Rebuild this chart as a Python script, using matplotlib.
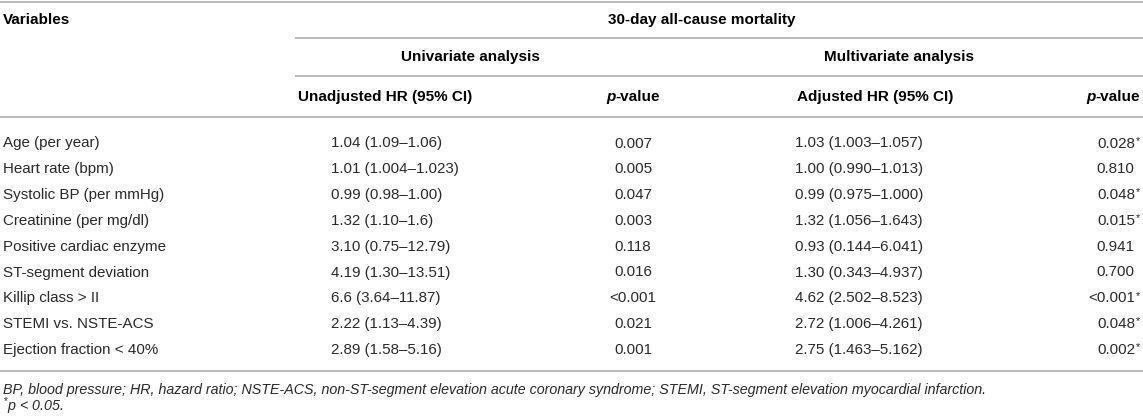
import matplotlib
matplotlib.use("Agg")
import matplotlib.pyplot as plt

# dados da tabela
variaveis = ["Age (per year)", "Heart rate (bpm)", "Systolic BP (per mmHg)",
             "Creatinine (per mg/dl)", "Positive cardiac enzyme", "ST-segment deviation",
             "Killip class > II", "STEMI vs. NSTE-ACS", "Ejection fraction < 40%"]
hr_bruto = ["1.04 (1.09–1.06)", "1.01 (1.004–1.023)", "0.99 (0.98–1.00)",
            "1.32 (1.10–1.6)", "3.10 (0.75–12.79)", "4.19 (1.30–13.51)",
            "6.6 (3.64–11.87)", "2.22 (1.13–4.39)", "2.89 (1.58–5.16)"]
p_bruto = ["0.007", "0.005", "0.047", "0.003", "0.118", "0.016", "<0.001", "0.021", "0.001"]
hr_ajust = ["1.03 (1.003–1.057)", "1.00 (0.990–1.013)", "0.99 (0.975–1.000)",
            "1.32 (1.056–1.643)", "0.93 (0.144–6.041)", "1.30 (0.343–4.937)",
            "4.62 (2.502–8.523)", "2.72 (1.006–4.261)", "2.75 (1.463–5.162)"]
p_ajust = ["0.028", "0.810", "0.048", "0.015", "0.941", "0.700", "<0.001", "0.048", "0.002"]
signif = [True, False, True, True, False, False, True, True, True]

titulo = "30-day all-cause mortality"
grupos = ["Univariate analysis", "Multivariate analysis"]
nota1 = ("BP, blood pressure; HR, hazard ratio; NSTE-ACS, non-ST-segment elevation "
         "acute coronary syndrome; STEMI, ST-segment elevation myocardial infarction.")

plt.rcParams["font.family"] = "Liberation Sans"
plt.rcParams["mathtext.fontset"] = "custom"
plt.rcParams["mathtext.rm"] = "Liberation Sans"
plt.rcParams["mathtext.it"] = "Liberation Sans:italic"

W, H = 1143, 420
fig = plt.figure(figsize=(W / 100, H / 100), dpi=100)
ax = fig.add_axes([0, 0, 1, 1])
ax.set_xlim(0, W)
ax.set_ylim(H, 0)
ax.axis("off")

fs = 10.9      # corpo
fs_b = 11.0    # cabecalhos
fs_n = 10.3    # rodape
cor_linha = "#b4b4b4"
cor_txt = "#2a2a2a"
renderer = fig.canvas.get_renderer()


def linha(y, x0=0, x1=W):
    ax.plot([x0, x1], [y, y], color=cor_linha, lw=1.3, solid_capstyle="butt")


def texto_partes(x, y, partes, ha="left", tam=fs):
    # desenha pedacos com estilos diferentes lado a lado
    objs = []
    larg = []
    for s, kw in partes:
        t = ax.text(0, y, s, fontsize=tam, va="center", **kw)
        bb = t.get_window_extent(renderer=renderer)
        objs.append(t)
        larg.append(bb.width)
    total = sum(larg)
    if ha == "center":
        x = x - total / 2
    elif ha == "right":
        x = x - total
    for t, w in zip(objs, larg):
        t.set_x(x)
        x += w


# linhas horizontais
linha(2)
linha(38, 295)
linha(76, 295)
linha(117)
linha(371)

# cabecalhos
bold = dict(fontweight="bold", color="black", fontsize=fs_b, va="center")
ax.text(3, 20, "Variables", **bold)
ax.text(702, 20, titulo, ha="center", **bold)
ax.text(470, 57, grupos[0], ha="center", **bold)
ax.text(899, 57, grupos[1], ha="center", **bold)
ax.text(385, 97, "Unadjusted HR (95% CI)", ha="center", **bold)
ax.text(875, 97, "Adjusted HR (95% CI)", ha="center", **bold)
pv = [("p", dict(fontweight="bold", fontstyle="italic", color="black")),
      ("-value", dict(fontweight="bold", color="black"))]
texto_partes(633, 97, pv, ha="center", tam=fs_b)
texto_partes(1140, 97, pv, ha="right", tam=fs_b)

# linhas de dados
y0, passo = 143.5, 25.8
for i, nome in enumerate(variaveis):
    y = y0 + i * passo
    ax.text(3, y, nome, fontsize=fs, va="center", color=cor_txt)
    ax.text(331, y, hr_bruto[i], fontsize=fs, va="center", color=cor_txt)
    ax.text(633, y, p_bruto[i], fontsize=fs, va="center", ha="center", color=cor_txt)
    ax.text(795, y, hr_ajust[i], fontsize=fs, va="center", color=cor_txt)
    if signif[i]:
        texto_partes(1141, y, [(p_ajust[i], dict(color=cor_txt)),
                               ("$^{*}$", dict(color=cor_txt))], ha="right")
    else:
        ax.text(1134, y, p_ajust[i], fontsize=fs, va="center", ha="right", color=cor_txt)

# notas de rodape
ax.text(3, 390, nota1, fontsize=fs_n, va="center", fontstyle="italic", color=cor_txt)
ax.text(3, 406, r"$^{*}$$\it{p}$ < 0.05.", fontsize=fs_n, va="center",
        fontstyle="italic", color=cor_txt)

fig.savefig("out.png", dpi=100)
